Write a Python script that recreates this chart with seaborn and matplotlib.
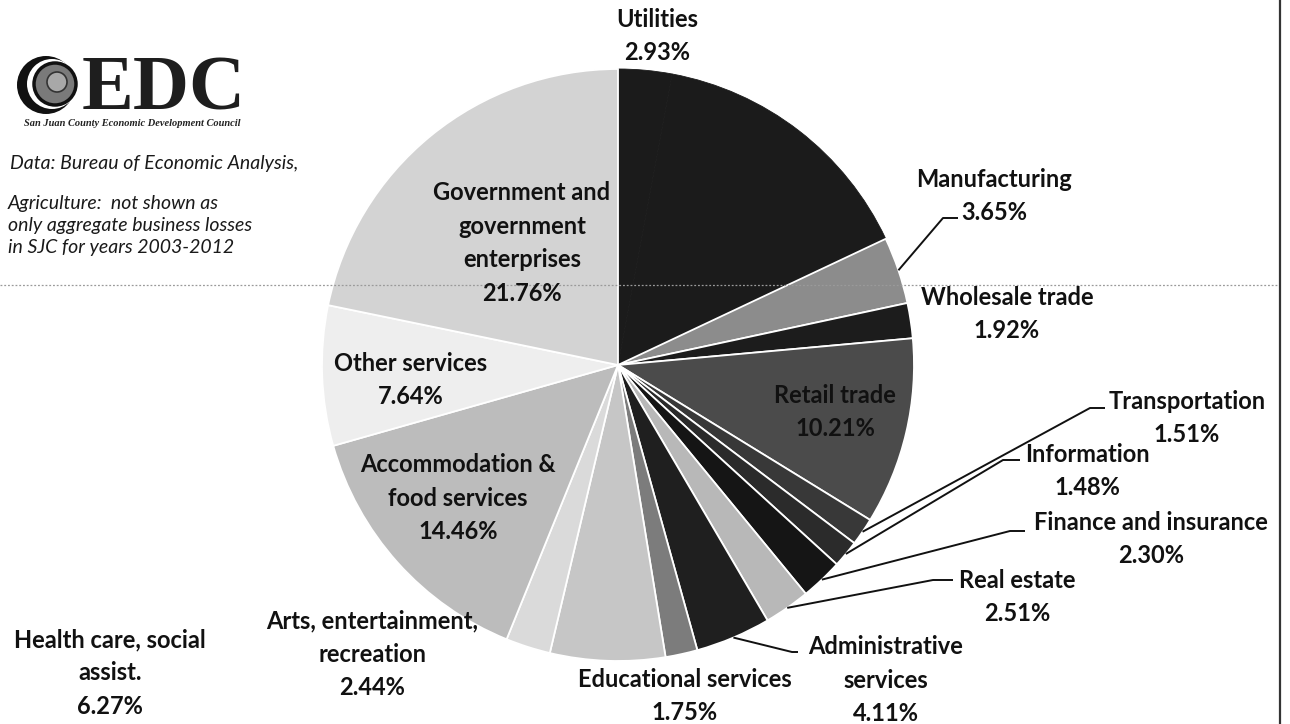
import numpy as np
import matplotlib
matplotlib.use("Agg")
import matplotlib.pyplot as plt
import seaborn as sns
from matplotlib.patches import Circle

# Share of business income by industry, San Juan County (percent)
industries = [
    "Utilities", "Not labeled", "Manufacturing", "Wholesale trade", "Retail trade",
    "Transportation", "Information", "Finance and insurance", "Real estate",
    "Administrative services", "Educational services", "Health care, social assist.",
    "Arts, entertainment, recreation", "Accommodation & food services",
    "Other services", "Government and government enterprises",
]
shares = [2.93, 15.06, 3.65, 1.92, 10.21, 1.51, 1.48, 2.30, 2.51,
          4.11, 1.75, 6.27, 2.44, 14.46, 7.64, 21.76]
display_names = [
    "Utilities", None, "Manufacturing", "Wholesale trade", "Retail trade",
    "Transportation", "Information", "Finance and insurance", "Real estate",
    "Administrative\nservices", "Educational services", "Health care, social\nassist.",
    "Arts, entertainment,\nrecreation", "Accommodation &\nfood services",
    "Other services", "Government and\ngovernment\nenterprises",
]
wedge_grays = ["#1b1b1b", "#1b1b1b", "#8c8c8c", "#1c1c1c", "#4b4b4b",
               "#383838", "#2b2b2b", "#151515", "#b8b8b8",
               "#1f1f1f", "#7c7c7c", "#c6c6c6", "#dadada", "#bcbcbc",
               "#eeeeee", "#d3d3d3"]
# the first two slices read as one dark block
seamless = {"Utilities", "Not labeled"}

sns.set_theme(style="white")
plt.rcParams["font.family"] = ["Lato", "DejaVu Sans"]

W, H = 1290, 724
fig = plt.figure(figsize=(W / 100, H / 100), dpi=100)
fig.patch.set_facecolor("white")

# pie placement in pixels
cx, cy, R = 618, 365, 296
ax = fig.add_axes([(cx - R) / W, (H - cy - R) / H, 2 * R / W, 2 * R / H])
wedges, _ = ax.pie(shares, colors=wedge_grays, startangle=90, counterclock=False,
                   radius=1, wedgeprops=dict(edgecolor="white", linewidth=1.3))
for w, name, col in zip(wedges, industries, wedge_grays):
    if name in seamless:
        w.set_edgecolor(col)
        w.set_linewidth(0.6)
ax.set_xlim(-1, 1)
ax.set_ylim(-1, 1)
ax.set_aspect("equal")
ax.axis("off")

# overlay in pixel coordinates for labels, leaders and notes
ov = fig.add_axes([0, 0, 1, 1], zorder=3)
ov.set_xlim(0, W)
ov.set_ylim(H, 0)
ov.axis("off")
ov.patch.set_alpha(0)

# label block centres and leader line elbows
label_pos = {
    "Utilities": (657, 36),
    "Manufacturing": (994, 196),
    "Wholesale trade": (1007, 314),
    "Retail trade": (835, 412),
    "Transportation": (1187, 418),
    "Information": (1087, 471),
    "Finance and insurance": (1151, 539),
    "Real estate": (1017, 597),
    "Administrative services": (886, 680),
    "Educational services": (685, 696),
    "Health care, social assist.": (110, 673),
    "Arts, entertainment, recreation": (372, 654),
    "Accommodation & food services": (458, 498),
    "Other services": (411, 380),
    "Government and government enterprises": (522, 243),
}
leaders = {
    "Manufacturing": [(943, 218), (958, 218)],
    "Transportation": [(1090, 408), (1105, 408)],
    "Information": [(1003, 460), (1020, 460)],
    "Finance and insurance": [(1010, 531), (1025, 531)],
    "Real estate": [(933, 580), (953, 580)],
    "Administrative services": [(792, 652), (798, 652)],
}

for w, name, disp, val in zip(wedges, industries, display_names, shares):
    if disp is None:
        continue
    x, y = label_pos[name]
    ov.text(x, y, f"{disp}\n{val:.2f}%", ha="center", va="center",
            fontsize=17, fontweight="bold", color="#111111", linespacing=1.55)
    if name in leaders:
        th = np.deg2rad((w.theta1 + w.theta2) / 2)
        sx, sy = cx + R * np.cos(th), cy - R * np.sin(th)
        pts = [(sx, sy)] + leaders[name]
        ov.plot([p[0] for p in pts], [p[1] for p in pts], color="#111111", lw=1.4,
                solid_capstyle="butt")

# notes
note_kw = dict(ha="left", va="center", fontsize=14, style="italic", color="#1a1a1a")
ov.text(10, 163, "Data: Bureau of Economic Analysis,", **note_kw)
ov.text(8, 203, "Agriculture:  not shown as", **note_kw)
ov.text(8, 225, "only aggregate business losses", **note_kw)
ov.text(8, 247, "in SJC for years 2003-2012", **note_kw)

# logo
ov.add_patch(Circle((46, 85), 29, facecolor="#111111", edgecolor="none"))
ov.add_patch(Circle((52, 84), 25, facecolor="white", edgecolor="none"))
ov.add_patch(Circle((55, 84), 21, facecolor="#7a7a7a", edgecolor="#111111", lw=2.5))
ov.add_patch(Circle((57, 82), 10, facecolor="#a8a8a8", edgecolor="#333333", lw=1.2))
ov.text(164, 109, "EDC", ha="center", va="baseline", fontsize=56, fontweight="bold",
        family=["Liberation Serif", "DejaVu Serif"], color="#1e1e1e")
ov.text(132, 124, "San Juan County Economic Development Council", ha="center",
        va="center", fontsize=7.5, style="italic", fontweight="bold",
        family=["Liberation Serif", "DejaVu Serif"], color="#222222")

# frame edge and faint rule
ov.plot([0, 1280], [285, 285], color="#9a9a9a", lw=0.9, ls=(0, (1.5, 1.5)))
ov.plot([1280, 1280], [0, H], color="#333333", lw=1.6)

fig.savefig("out.png", dpi=100, facecolor="white")
